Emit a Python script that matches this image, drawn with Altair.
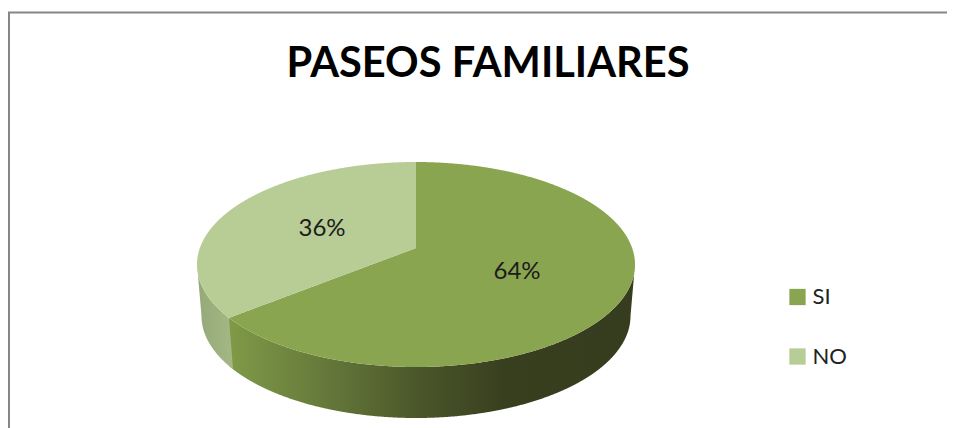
import numpy as np
import pandas as pd
import altair as alt

CATEGORIES = ["SI", "NO"]
SHARES = [64, 36]
SLICE_COLORS = ["#8AA54F", "#B8CC95"]
LABEL_X = [517, 322]
LABEL_Y = [271.5, 229]
TITLE = "PASEOS FAMILIARES"

# shape of the tilted pie
CX, CY, RX, RY = 416.0, 264.5, 219.0, 102.5
APEX_Y = 248.0
WEDGE_X = 229.0
WEDGE_BASE_X = 233.0
LOW_CY, LOW_RX, LOW_RY = 316.0, 214.5, 102.0
FONT = "Lato"


def upper(x):
    return CY - RY * np.sqrt(np.clip(1 - ((x - CX) / RX) ** 2, 0, 1))


def lower(x):
    return CY + RY * np.sqrt(np.clip(1 - ((x - CX) / RX) ** 2, 0, 1))


def base(x):
    y = LOW_CY + LOW_RY * np.sqrt(np.clip(1 - ((x - CX) / LOW_RX) ** 2, 0, 1))
    d = np.abs(x - CX)
    side = d > LOW_RX
    y = np.where(side, CY + (LOW_CY - CY) * (RX - d) / (RX - LOW_RX), y)
    return y


def grid(a, b):
    t = np.linspace(-np.pi, 0, 721)
    xs = CX + RX * np.cos(t)[::-1]
    xs = np.unique(np.concatenate([xs, [a, b]]))
    return xs[(xs >= a) & (xs <= b)]


wedge_y = float(lower(np.array(WEDGE_X)))
wedge_base_y = float(base(np.array(WEDGE_BASE_X)))


def edge(x):
    return wedge_y + (APEX_Y - wedge_y) * (x - WEDGE_X) / (CX - WEDGE_X)


# top faces
x_si_l = grid(WEDGE_X, CX)
x_si_r = grid(CX, CX + RX)
si = pd.DataFrame({
    "x": np.concatenate([x_si_l, x_si_r]),
    "y": np.concatenate([edge(x_si_l), upper(x_si_r)]),
    "y2": np.concatenate([lower(x_si_l), lower(x_si_r)]),
})
si["slice"] = CATEGORIES[0]
x_no = grid(CX - RX, CX)
no = pd.DataFrame({
    "x": x_no,
    "y": upper(x_no),
    "y2": np.where(x_no <= WEDGE_X, lower(x_no), edge(x_no)),
})
no["slice"] = CATEGORIES[1]
faces = pd.concat([si, no], ignore_index=True)

# side walls
x_wall_si = grid(WEDGE_X, CX + RX)
wall_si = pd.DataFrame({"x": x_wall_si, "y": lower(x_wall_si), "y2": base(x_wall_si)})
x_wall_no = grid(CX - RX, WEDGE_BASE_X)
slant = wedge_y + (wedge_base_y - wedge_y) * (x_wall_no - WEDGE_X) / (WEDGE_BASE_X - WEDGE_X)
wall_no = pd.DataFrame({
    "x": x_wall_no,
    "y": np.where(x_wall_no <= WEDGE_X, lower(x_wall_no), slant),
    "y2": base(x_wall_no),
})

xs = alt.Scale(domain=[8, 947], nice=False, zero=False)
ys = alt.Scale(domain=[428, 90], nice=False, zero=False)
X = alt.X("x:Q", scale=xs, axis=None)
Y = alt.Y("y:Q", scale=ys, axis=None, stack=None)


def gradient(stops):
    return alt.Gradient(
        gradient="linear",
        stops=[alt.GradientStop(offset=o, color=c) for o, c in stops],
        x1=0, x2=1, y1=0, y2=0,
    )


wall_a = alt.Chart(wall_si).mark_area(
    opacity=1,
    color=gradient([(0, "#7F9A47"), (0.25, "#64773A"), (0.47, "#4A5629"),
                    (0.68, "#383F1F"), (1, "#363D1E")])
).encode(x=X, y=Y, y2="y2:Q")

wall_b = alt.Chart(wall_no).mark_area(
    opacity=1,
    color=gradient([(0, "#95A978"), (1, "#A4B886")])
).encode(x=X, y=Y, y2="y2:Q")

top = alt.Chart(faces).mark_area(opacity=1).encode(
    x=X, y=Y, y2="y2:Q",
    color=alt.Color(
        "slice:N",
        scale=alt.Scale(domain=CATEGORIES, range=SLICE_COLORS),
        legend=alt.Legend(
            title=None, orient="none", legendX=778.5, legendY=196,
            symbolType="square", symbolSize=265, symbolStrokeWidth=0,
            symbolOpacity=1, labelFont=FONT, labelFontSize=22,
            labelColor="#222222", labelOffset=4, rowPadding=37.5,
        ),
    ),
)

labels_df = pd.DataFrame({
    "x": LABEL_X, "y": LABEL_Y,
    "t": [f"{v}%" for v in SHARES],
})
labels = alt.Chart(labels_df).mark_text(
    font=FONT, fontSize=24, color="#1c1c1c", align="center", baseline="middle"
).encode(x=X, y=Y, text="t:N")

top_rule = alt.Chart(pd.DataFrame({"x": [8], "x2": [947], "y": [12.5]})).mark_rule(
    color="#868686", strokeWidth=2.2
).encode(x=X, x2="x2:Q", y=Y)
left_rule = alt.Chart(pd.DataFrame({"x": [9], "y": [12], "y2": [428]})).mark_rule(
    color="#868686", strokeWidth=2
).encode(x=X, y=Y, y2="y2:Q")

chart = alt.layer(wall_a, wall_b, top, labels, top_rule, left_rule).properties(
    width=939,
    height=338,
    padding={"left": 0, "top": 82, "right": 0, "bottom": 0},
    autosize=alt.AutoSizeParams(type="none"),
    background="white",
    title=alt.TitleParams(
        TITLE, font=FONT, fontSize=41.6, fontWeight="bold", color="#000000",
        anchor="middle", dx=10.5, dy=85, offset=10,
    ),
).configure_view(stroke=None)

chart.save("out.html", embed_options={"renderer": "svg", "actions": False})
